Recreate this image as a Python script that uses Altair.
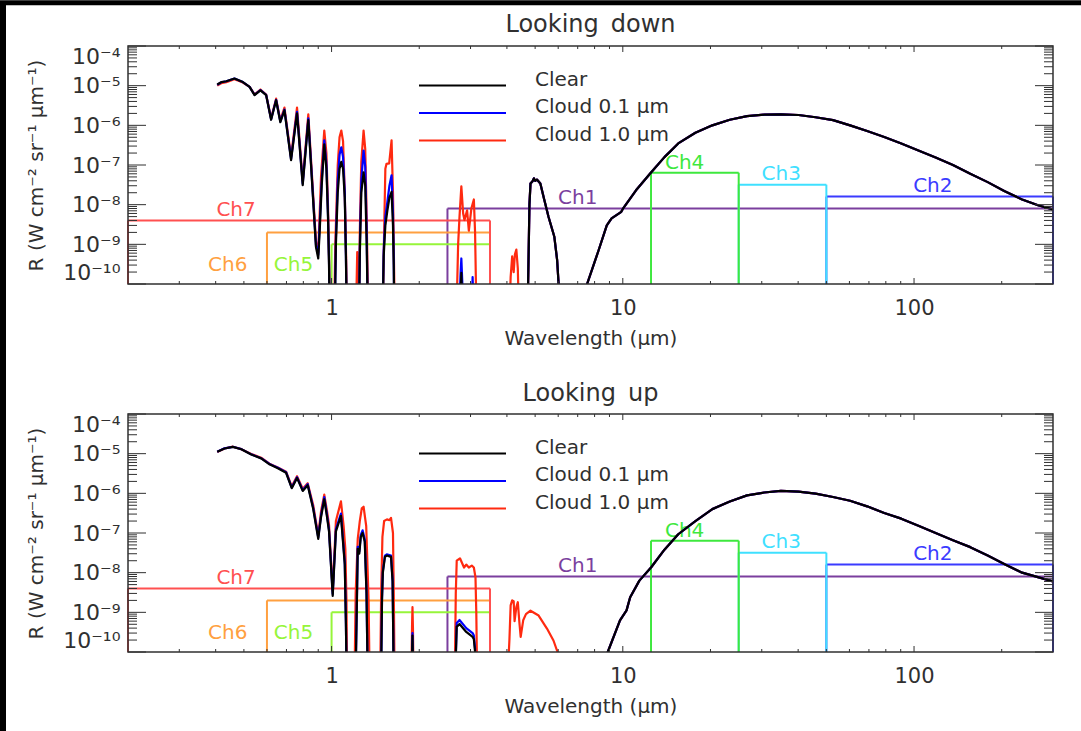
import altair as alt
import pandas as pd

FLOOR = 3e-11  # value below the lower axis limit (curve off the plot)

# ---------------- Looking down ----------------
down_clear_wl = [0.405, 0.418, 0.435, 0.464, 0.496, 0.523, 0.544, 0.570, 0.596, 0.620, 0.645, 0.667, 0.689,
                 0.726, 0.761, 0.796, 0.832, 0.884, 0.900, 0.910, 0.925, 0.944, 0.960, 0.972, 0.980, 0.984,
                 1.027, 1.035, 1.050, 1.065, 1.080, 1.095, 1.110, 1.120, 1.126,
                 1.244, 1.250, 1.265, 1.288, 1.305, 1.320, 1.330,
                 1.500, 1.510, 1.530, 1.555, 1.580, 1.607, 1.625, 1.635, 1.640,
                 2.77, 2.79, 2.81]
down_clear_r = [1.07e-5, 1.23e-5, 1.29e-5, 1.51e-5, 1.23e-5, 9.3e-6, 5.8e-6, 7.6e-6, 5.8e-6, 1.38e-6, 4.3e-6, 1.2e-6, 2.4e-6,
                1.32e-7, 2.0e-6, 3.1e-8, 1.35e-6, 8.5e-10, 4.4e-10, 2e-9, 3e-8, 3.3e-7, 8e-8, 5e-9, 3e-10, FLOOR,
                FLOOR, 1e-9, 2e-8, 8e-8, 1.2e-7, 8e-8, 1.5e-8, 5e-10, FLOOR,
                FLOOR, 5e-10, 2e-8, 6.5e-8, 3e-8, 1e-9, FLOOR,
                FLOOR, 5e-10, 3e-9, 7.2e-9, 1.5e-8, 2.1e-8, 3e-9, 3e-10, FLOOR,
                FLOOR, 1.9e-10, FLOOR]

down_blue_wl = [0.405, 0.418, 0.435, 0.464, 0.496, 0.523, 0.544, 0.570, 0.596, 0.620, 0.645, 0.667, 0.689,
                0.726, 0.761, 0.796, 0.832, 0.884, 0.900, 0.910, 0.925, 0.944, 0.960, 0.972, 0.980, 0.984,
                1.027, 1.035, 1.050, 1.065, 1.080, 1.095, 1.110, 1.120, 1.126,
                1.244, 1.250, 1.265, 1.288, 1.305, 1.320, 1.330,
                1.500, 1.510, 1.530, 1.555, 1.580, 1.607, 1.625, 1.635, 1.640,
                2.75, 2.77, 2.79, 2.81, 2.83, 3.03, 3.05, 3.07]
down_blue_r = [1.05e-5, 1.22e-5, 1.29e-5, 1.51e-5, 1.23e-5, 9.3e-6, 5.9e-6, 7.7e-6, 5.9e-6, 1.42e-6, 4.4e-6, 1.25e-6, 2.5e-6,
               1.4e-7, 2.2e-6, 3.4e-8, 1.5e-6, 9.5e-10, 5.5e-10, 3e-9, 4e-8, 4.2e-7, 1.1e-7, 6e-9, 4e-10, FLOOR,
               FLOOR, 1.5e-9, 4e-8, 1.8e-7, 2.8e-7, 1.6e-7, 2e-8, 6e-10, FLOOR,
               FLOOR, 8e-10, 4e-8, 2.3e-7, 9e-8, 2e-9, FLOOR,
               FLOOR, 7e-10, 5e-9, 1.2e-8, 3e-8, 5.5e-8, 6e-9, 4e-10, FLOOR,
               FLOOR, 1.5e-10, 4.4e-10, 1.2e-10, FLOOR, FLOOR, 1.5e-10, FLOOR]

down_red_wl = [0.405, 0.418, 0.435, 0.464, 0.496, 0.523, 0.544, 0.570, 0.596, 0.620, 0.645, 0.667, 0.689,
               0.726, 0.761, 0.796, 0.832, 0.884, 0.900, 0.920, 0.944, 0.960, 0.972, 0.980, 0.984,
               1.022, 1.030, 1.050, 1.065, 1.080, 1.095, 1.110, 1.122, 1.128,
               1.215, 1.225, 1.232, 1.242, 1.250, 1.265, 1.288, 1.305, 1.320, 1.335,
               1.500, 1.515, 1.530, 1.544, 1.577, 1.607, 1.625, 1.640, 1.645,
               2.69, 2.72, 2.75, 2.79, 2.83, 2.86, 2.92, 2.96, 3.02, 3.08, 3.11, 3.14,
               4.09, 4.12, 4.17, 4.22, 4.26, 4.31, 4.36, 4.39]
down_red_r = [1.0e-5, 1.15e-5, 1.22e-5, 1.45e-5, 1.2e-5, 9.3e-6, 6.0e-6, 8.0e-6, 6.0e-6, 1.5e-6, 4.7e-6, 1.35e-6, 2.8e-6,
              1.6e-7, 2.8e-6, 4.0e-8, 1.9e-6, 1.2e-9, 6.3e-10, 5e-8, 7.4e-7, 2e-7, 1e-8, 5e-10, FLOOR,
              FLOOR, 1e-9, 1e-7, 5e-7, 7.4e-7, 4e-7, 2e-8, 5e-10, FLOOR,
              FLOOR, 6.4e-10, FLOOR, FLOOR, 2e-9, 1.2e-7, 7.4e-7, 2.5e-7, 5e-9, FLOOR,
              FLOOR, 1.9e-9, 8e-8, 1.07e-7, 1.1e-7, 4.2e-7, 2e-8, 2e-10, FLOOR,
              FLOOR, 1e-9, 5e-9, 2.9e-8, 6e-9, 4.1e-9, 7.2e-9, 2.2e-9, 8e-9, 1.35e-8, 2e-9, FLOOR,
              FLOOR, 1.5e-10, 5e-10, 2e-10, 5.5e-10, 7.4e-10, 2.5e-10, FLOOR]

# 5 micron band and thermal emission (same for the three cases)
down_ir_wl = [4.70, 4.73, 4.78, 4.82, 4.90, 4.95, 5.00, 5.07, 5.21, 5.38, 5.56, 5.82, 5.95, 6.02, 6.06,
              7.45, 7.54, 8.26, 8.81, 9.15, 9.88, 10.0, 11.1, 12.5, 13.9, 15.5, 17.75, 20.3, 23.3, 26.7, 30.6,
              34.9, 40.1, 45.9, 52.7, 60.3, 69.0, 79.0, 90.4, 104, 118.6, 136, 156, 179, 204, 235, 268, 300]
down_ir_r = [FLOOR, 1e-10, 1e-8, 3.4e-8, 3.9e-8, 4.6e-8, 4.0e-8, 4.3e-8, 3.4e-8, 1.3e-8, 4.9e-9, 1.55e-9, 4.0e-10, 1e-10, FLOOR,
             FLOOR, 1e-10, 7.1e-10, 3.0e-9, 4.5e-9, 6.6e-9, 7.8e-9, 2.3e-8, 6.5e-8, 1.58e-7, 3.5e-7, 6.5e-7, 1.0e-6,
             1.38e-6, 1.7e-6, 1.86e-6, 1.9e-6, 1.82e-6, 1.6e-6, 1.35e-6, 1.0e-6, 7.2e-7, 5.1e-7, 3.5e-7, 2.3e-7,
             1.55e-7, 1.0e-7, 6.0e-8, 3.7e-8, 2.2e-8, 1.35e-8, 9.5e-9, 7.6e-9]

# ---------------- Looking up ----------------
up_clear_wl = [0.405, 0.429, 0.458, 0.490, 0.530, 0.573, 0.612, 0.654, 0.698, 0.730, 0.761, 0.796, 0.828, 0.865,
               0.900, 0.920, 0.944, 0.965, 0.980, 1.009, 1.035, 1.077, 1.110, 1.120, 1.126,
               1.210, 1.222, 1.230, 1.245, 1.260, 1.278, 1.300, 1.318, 1.330,
               1.480, 1.490, 1.500, 1.525, 1.547, 1.600, 1.620, 1.628, 1.633,
               1.885, 1.896, 1.905,
               2.66, 2.69, 2.75, 2.90, 3.05, 3.08, 3.11, 3.12]
up_clear_r = [1.12e-5, 1.35e-5, 1.48e-5, 1.29e-5, 9.5e-6, 7.6e-6, 5.4e-6, 4.3e-6, 3.3e-6, 1.35e-6, 2.45e-6, 1.15e-6, 1.6e-6, 4e-7,
              7.1e-8, 2.5e-7, 7.1e-7, 2.5e-7, 1.1e-7, 2.6e-9, 1.1e-7, 2.7e-7, 1.6e-8, 5e-10, FLOOR,
              FLOOR, 2e-9, 4e-8, 3e-8, 8e-8, 1.0e-7, 6e-8, 3e-9, FLOOR,
              FLOOR, 2e-9, 1e-8, 2.5e-8, 2.7e-8, 2.5e-8, 6e-9, 3e-10, FLOOR,
              FLOOR, 2.6e-10, FLOOR,
              FLOOR, 4.3e-10, 5.1e-10, 3.2e-10, 2.4e-10, 2.1e-10, 1e-10, FLOOR]

up_blue_wl = up_clear_wl
up_blue_r = [1.12e-5, 1.36e-5, 1.49e-5, 1.3e-5, 9.6e-6, 7.7e-6, 5.5e-6, 4.4e-6, 3.4e-6, 1.4e-6, 2.55e-6, 1.2e-6, 1.7e-6, 4.3e-7,
             7.8e-8, 2.8e-7, 8.0e-7, 2.8e-7, 1.2e-7, 2.9e-9, 1.25e-7, 3.1e-7, 1.8e-8, 6e-10, FLOOR,
             FLOOR, 2.3e-9, 4.5e-8, 3.4e-8, 9e-8, 1.17e-7, 7e-8, 3.5e-9, FLOOR,
             FLOOR, 2.3e-9, 1.1e-8, 2.7e-8, 2.9e-8, 2.7e-8, 6.5e-9, 3.5e-10, FLOOR,
             FLOOR, 3e-10, FLOOR,
             FLOOR, 5.4e-10, 6.4e-10, 4.0e-10, 3.0e-10, 2.6e-10, 1.2e-10, FLOOR]

up_red_wl = [0.405, 0.429, 0.458, 0.490, 0.530, 0.573, 0.612, 0.654, 0.698, 0.730, 0.761, 0.796, 0.828, 0.865,
             0.900, 0.920, 0.944, 0.965, 0.980, 1.009, 1.035, 1.077, 1.100, 1.115, 1.125, 1.130,
             1.200, 1.210, 1.230, 1.250, 1.270, 1.288, 1.315, 1.340, 1.350,
             1.470, 1.480, 1.495, 1.515, 1.550, 1.580, 1.600, 1.625, 1.638, 1.645,
             1.880, 1.890, 1.896, 1.903, 1.910,
             2.65, 2.67, 2.69, 2.76, 2.85, 2.90, 2.96, 3.03, 3.08, 3.12, 3.14, 3.16,
             4.03, 4.08, 4.12, 4.17, 4.22, 4.25, 4.31, 4.36, 4.42, 4.46, 4.55, 4.65, 4.82, 5.14, 5.49, 5.78, 5.97, 6.00]
up_red_r = [1.1e-5, 1.35e-5, 1.5e-5, 1.3e-5, 9.8e-6, 7.9e-6, 5.6e-6, 4.5e-6, 3.5e-6, 1.5e-6, 2.7e-6, 1.3e-6, 1.8e-6, 5e-7,
            8.9e-8, 3.5e-7, 9.3e-7, 3.5e-7, 1.6e-7, 3.5e-9, 2e-7, 6.3e-7, 1.5e-7, 4e-8, 2e-9, FLOOR,
            FLOOR, 3e-9, 7.1e-8, 2e-7, 4.2e-7, 4.6e-7, 1.5e-7, 2e-9, FLOOR,
            FLOOR, 3e-9, 8e-8, 2.0e-7, 2.2e-7, 2.1e-7, 2.4e-7, 1.0e-7, 1e-9, FLOOR,
            FLOOR, 5e-10, 1.35e-9, 4e-10, FLOOR,
            FLOOR, 3e-9, 2.0e-8, 2.3e-8, 1.35e-8, 1.6e-8, 1.35e-8, 1.5e-8, 1.35e-8, 7.6e-9, 1e-9, FLOOR,
            FLOOR, 2e-10, 1.5e-9, 2.0e-9, 1.9e-9, 6e-10, 1.35e-9, 1.8e-9, 5e-10, 2.4e-10, 6.3e-10, 9e-10, 1.1e-9, 8.3e-10,
            3.9e-10, 1.95e-10, 1e-10, FLOOR]

up_ir_wl = [8.80, 8.88, 9.78, 10.3, 10.6, 11.4, 12.5, 13.9, 15.5, 17.75, 20.3, 23.3, 26.7, 30.6, 34.9, 40.1, 45.9,
            52.7, 60.3, 69.0, 79.0, 90.4, 104, 118.6, 136, 156, 179, 204, 235, 268, 300]
up_ir_r = [FLOOR, 1e-10, 6.3e-10, 1.12e-9, 2.4e-9, 6.3e-9, 1.35e-8, 3.8e-8, 9.3e-8, 2.0e-7, 4.0e-7, 6.2e-7, 8.9e-7,
           1.05e-6, 1.15e-6, 1.1e-6, 9.8e-7, 8.1e-7, 6.5e-7, 4.7e-7, 3.2e-7, 2.3e-7, 1.5e-7, 1.0e-7, 6.6e-8, 4.4e-8,
           2.7e-8, 1.66e-8, 1.0e-8, 7.6e-9, 6.0e-9]

# ---------------- Channels ----------------
ch_names = ["Ch1", "Ch2", "Ch3", "Ch4", "Ch5", "Ch6", "Ch7"]
ch_lo = [2.5, 50, 25, 12.5, 1.0, 0.6, 0.2]
ch_hi = [300, 300, 50, 25, 3.5, 3.5, 3.5]
ch_level = [8e-9, 1.6e-8, 3.2e-8, 6.4e-8, 1e-9, 2e-9, 4e-9]
ch_colors = ["#7b3f9e", "#3b3bff", "#3fe0ff", "#3ee83e", "#96f53a", "#ffa040", "#ff5050"]
ch_label_x = [7.0, 116, 35, 16.3, 0.74, 0.44, 0.47]
ch_label_y = [1.45e-8, 2.9e-8, 5.9e-8, 1.15e-7, 3.0e-10, 3.0e-10, 7.2e-9]

series_names = ["Clear", "Cloud 0.1 \u00b5m", "Cloud 1.0 \u00b5m"]
series_colors = ["#000000", "#0000ff", "#ff2a10"]

x_major = [1, 10, 100]
x_minor = [0.3, 0.4, 0.5, 0.6, 0.7, 0.8, 0.9, 2, 3, 4, 5, 6, 7, 8, 9, 20, 30, 40, 50, 60, 70, 80, 90, 200]
y_major = [1e-10, 1e-9, 1e-8, 1e-7, 1e-6, 1e-5, 1e-4]
y_minor = [k * 10.0 ** e for e in range(-10, -4) for k in range(2, 10)]

W, H = 925, 238
TOP_OFF = 45.7  # distance from the page top to the first plot area
FONT = "DejaVu Sans"
TXT = "#303030"
XDOM = [0.2, 300]
YDOM = [1e-10, 1e-4]

xscale = alt.Scale(type="log", domain=XDOM, nice=False)
yscale = alt.Scale(type="log", domain=YDOM, nice=False)

sup = "['\u207b\u2074','\u207b\u2075','\u207b\u2076','\u207b\u2077','\u207b\u2078','\u207b\u2079','\u207b\u00b9\u2070']"

xaxis = alt.Axis(values=x_major, format="d", ticks=False, tickSize=0, domain=False, grid=False,
                 labelPadding=24, labelBaseline="middle", labelFontSize=21, labelFont=FONT, labelColor=TXT,
                 title="Wavelength (\u00b5m)", titleX=W / 2, titleY=54, titleBaseline="middle", titleAlign="center",
                 titleFontSize=20, titleFont=FONT, titleFontWeight="normal", titleColor=TXT, zindex=1)
yaxis = alt.Axis(values=y_major, labelExpr="'10' + " + sup + "[round(-log(datum.value)/LN10) - 4]",
                 ticks=False, tickSize=0, domain=False, grid=False, labelPadding=8, labelFontSize=22,
                 labelFont=FONT, labelColor=TXT,
                 labelBaseline={"condition": [{"test": "datum.value > 5e-5", "value": "top"},
                                              {"test": "datum.value < 2e-10", "value": "bottom"}],
                                "value": "middle"},
                 title="R (W cm\u207b\u00b2 sr\u207b\u00b9 \u00b5m\u207b\u00b9)", titleX=-92, titleY=H / 2,
                 titleAngle=270, titleAlign="center", titleBaseline="middle", titleFontSize=20, titleFont=FONT,
                 titleFontWeight="normal", titleColor=TXT, zindex=1)


def X(f):
    return alt.X(f, type="quantitative", scale=xscale, axis=xaxis)


def Y(f):
    return alt.Y(f, type="quantitative", scale=yscale, axis=yaxis)


ONE = alt.Data(values=[{"a": 1}])


def panel(title, title_y, bg_y1, bg_y2, top_strip, curves):
    layers = []
    # white page behind the panel (defines the panel's extent)
    layers.append(alt.Chart(ONE).mark_rect(color="white").encode(
        x=alt.value(-122), x2=alt.value(953), y=alt.value(bg_y1), y2=alt.value(bg_y2)))
    if top_strip:  # black top edge of the original figure
        layers.append(alt.Chart(ONE).mark_rect(color="black").encode(
            x=alt.value(-122), x2=alt.value(953), y=alt.value(bg_y1), y2=alt.value(bg_y1 + 5)))
    # channel boxes
    segs = []
    for n, lo, hi, lev, c in zip(ch_names, ch_lo, ch_hi, ch_level, ch_colors):
        segs.append({"wl": lo, "wl2": hi, "R": lev, "R2": lev, "c": c})
        segs.append({"wl": lo, "wl2": lo, "R": lev, "R2": YDOM[0], "c": c})
        segs.append({"wl": hi, "wl2": hi, "R": lev, "R2": YDOM[0], "c": c})
    layers.append(alt.Chart(pd.DataFrame(segs)).mark_rule(strokeWidth=2).encode(
        x=X("wl"), x2="wl2:Q", y=Y("R"), y2="R2:Q", color=alt.Color("c:N", scale=None)))
    labs = pd.DataFrame({"wl": ch_label_x, "R": ch_label_y, "t": ch_names, "c": ch_colors})
    layers.append(alt.Chart(labs).mark_text(font=FONT, fontSize=20, baseline="middle", align="center").encode(
        x=X("wl"), y=Y("R"), text="t:N", color=alt.Color("c:N", scale=None)))
    # spectra: red, blue, black (black on top)
    for idx in [2, 1, 0]:
        wl, r = curves[idx]
        df = pd.DataFrame({"wl": wl, "R": r, "o": list(range(len(wl)))})
        layers.append(alt.Chart(df).mark_line(clip=True, strokeWidth=2.2, color=series_colors[idx],
                                              strokeJoin="round").encode(
            x=X("wl"), y=Y("R"), order="o:Q"))
    # legend
    for i, (nm, col) in enumerate(zip(series_names, series_colors)):
        yy = 39.5 + i * 27.5
        layers.append(alt.Chart(ONE).mark_rule(color=col, strokeWidth=2).encode(
            x=alt.value(291), x2=alt.value(378), y=alt.value(yy)))
        layers.append(alt.Chart(ONE).mark_text(text=nm, font=FONT, fontSize=20, align="left",
                                               baseline="middle", color=TXT).encode(
            x=alt.value(407), y=alt.value(yy - 6)))
    # inward ticks
    for vals, ln in [(x_major, 6), (x_minor, 3)]:
        d = pd.DataFrame({"wl": vals})
        layers.append(alt.Chart(d).mark_rule(color=TXT, strokeWidth=1).encode(
            x=X("wl"), y=alt.value(H), y2=alt.value(H - ln)))
        layers.append(alt.Chart(d).mark_rule(color=TXT, strokeWidth=1).encode(
            x=X("wl"), y=alt.value(0), y2=alt.value(ln)))
    for vals, ln in [(y_major, 18), (y_minor, 9)]:
        d = pd.DataFrame({"R": vals})
        layers.append(alt.Chart(d).mark_rule(color=TXT, strokeWidth=1).encode(
            y=Y("R"), x=alt.value(0), x2=alt.value(ln)))
        layers.append(alt.Chart(d).mark_rule(color=TXT, strokeWidth=1).encode(
            y=Y("R"), x=alt.value(W - ln), x2=alt.value(W)))
    # frame
    layers.append(alt.Chart(ONE).mark_rect(fillOpacity=0, stroke=TXT, strokeWidth=1.5).encode(
        x=alt.value(0), x2=alt.value(W), y=alt.value(0), y2=alt.value(H)))
    # title
    layers.append(alt.Chart(ONE).mark_text(text=title, font=FONT, fontSize=24, align="center",
                                           baseline="middle", color=TXT).encode(
        x=alt.value(W / 2), y=alt.value(title_y)))
    return alt.layer(*layers).properties(width=W, height=H)


top = panel("Looking\u2002down", -21.5, -TOP_OFF, 319.3, True,
            [(down_clear_wl + down_ir_wl, down_clear_r + down_ir_r),
             (down_blue_wl + down_ir_wl, down_blue_r + down_ir_r),
             (down_red_wl + down_ir_wl, down_red_r + down_ir_r)])
bottom = panel("Looking\u2002up", -20.5, -47.7, 318.3, False,
               [(up_clear_wl + up_ir_wl, up_clear_r + up_ir_r),
                (up_blue_wl + up_ir_wl, up_blue_r + up_ir_r),
                (up_red_wl + up_ir_wl, up_red_r + up_ir_r)])

# black left edge of the original figure, as its own full-height column
edge = alt.Chart(ONE).mark_rect(color="black").encode(
    x=alt.value(0), x2=alt.value(6), y=alt.value(-TOP_OFF), y2=alt.value(731 - TOP_OFF)
).properties(width=6, height=H)

chart = alt.hconcat(edge, alt.vconcat(top, bottom, spacing=0), spacing=0).properties(
    padding={"left": 0, "top": 0, "right": 0, "bottom": 0}
).configure(background="white").configure_view(stroke=None)

chart.save("out.html", embed_options={"renderer": "svg", "actions": False})
